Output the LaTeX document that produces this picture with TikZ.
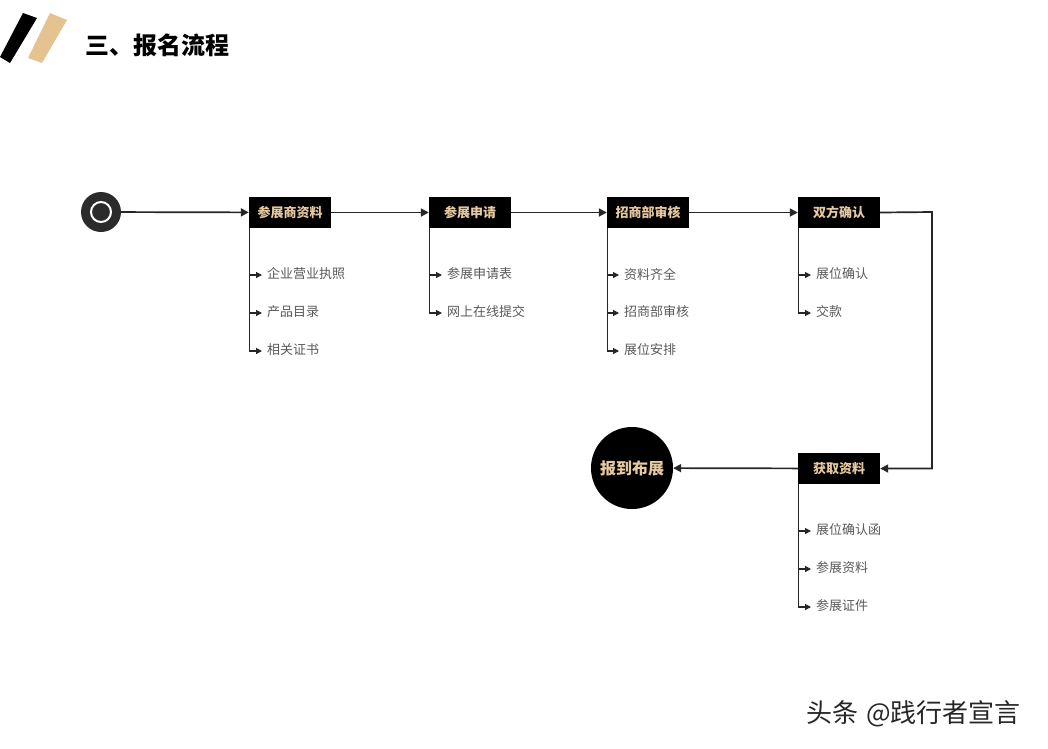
\documentclass[tikz,border=0pt]{standalone}
\usepackage{fontspec}
\setmainfont{Noto Sans CJK SC}
\usetikzlibrary{arrows.meta}
\definecolor{tanc}{HTML}{E6C9A0}
\definecolor{barc}{HTML}{E5C391}
\definecolor{itemc}{HTML}{595959}
\definecolor{linec}{HTML}{262626}
\definecolor{startc}{HTML}{2B2B2B}
\begin{document}
\begin{tikzpicture}[x=1pt,y=-1pt,
  stepbox/.style={fill=black, text=tanc, font=\bfseries\fontsize{13}{13}\selectfont, minimum width=82pt, minimum height=31pt, inner sep=0pt},
  item/.style={text=itemc, font=\fontsize{13}{13}\selectfont, anchor=west, inner sep=0pt},
  arr/.style={-{Triangle[length=8pt,width=8pt]}, line width=1.7pt, draw=linec},
  subarr/.style={-{Triangle[length=6pt,width=6pt]}, line width=1.1pt, draw=linec, shorten >=5pt}]
\useasboundingbox (0,0) rectangle (1048,748);
% header bars
\fill[black] (23,13) -- (37,18) -- (10,63) -- (0,57) -- cycle;
\fill[barc] (50,13) -- (67,20) -- (42,63) -- (28,58) -- cycle;
\node[anchor=west, inner sep=0pt, font=\bfseries\fontsize{24}{24}\selectfont] (title) at (85,45) {三、报名流程};
% start
\node[circle, fill=startc, minimum size=40pt, inner sep=0pt] (start) at (101,212) {};
\draw[white, line width=2pt] (start.center) circle (10pt);
% steps
\node[stepbox] (b1) at (290,212.5) {参展商资料};
\node[stepbox] (b2) at (470,212.5) {参展申请};
\node[stepbox] (b3) at (648,212.5) {招商部审核};
\node[stepbox] (b4) at (839,212.5) {双方确认};
\node[stepbox] (b5) at (839,468.5) {获取资料};
\node[circle, fill=black, minimum size=82pt, inner sep=0pt, text=tanc, font=\bfseries\fontsize{16}{16}\selectfont] (end) at (632,468) {报到布展};
\coordinate (turn) at (932,212);
\draw[arr] (start) -- (b1);
\draw[arr] (b1) -- (b2);
\draw[arr] (b2) -- (b3);
\draw[arr] (b3) -- (b4);
\draw[arr] (b4.east) -- (turn) |- (b5.east);
\draw[arr] (b5) -- (end);
% items
\node[item] (i11) at (267,274) {企业营业执照};
\node[item] (i12) at (267,312) {产品目录};
\node[item] (i13) at (267,350) {相关证书};
\node[item] (i21) at (447,274) {参展申请表};
\node[item] (i22) at (447,312) {网上在线提交};
\node[item] (i31) at (624,274) {资料齐全};
\node[item] (i32) at (624,312) {招商部审核};
\node[item] (i33) at (624,350) {展位安排};
\node[item] (i41) at (816,274) {展位确认};
\node[item] (i42) at (816,312) {交款};
\node[item] (i51) at (816,530) {展位确认函};
\node[item] (i52) at (816,568) {参展资料};
\node[item] (i53) at (816,606) {参展证件};
\foreach \b/\i in {b1/i11,b1/i12,b1/i13,b2/i21,b2/i22,b3/i31,b3/i32,b3/i33,b4/i41,b4/i42,b5/i51,b5/i52,b5/i53}
  \draw[subarr] ([xshift=0.5pt]\b.south west) |- ([yshift=-1pt]\i.west);
% watermark
\node[anchor=west, inner sep=0pt, text=black!85, font=\fontsize{26}{26}\selectfont] (wm) at (806,714) {头条\hspace{8pt}@践行者宣言};
\end{tikzpicture}
\end{document}
